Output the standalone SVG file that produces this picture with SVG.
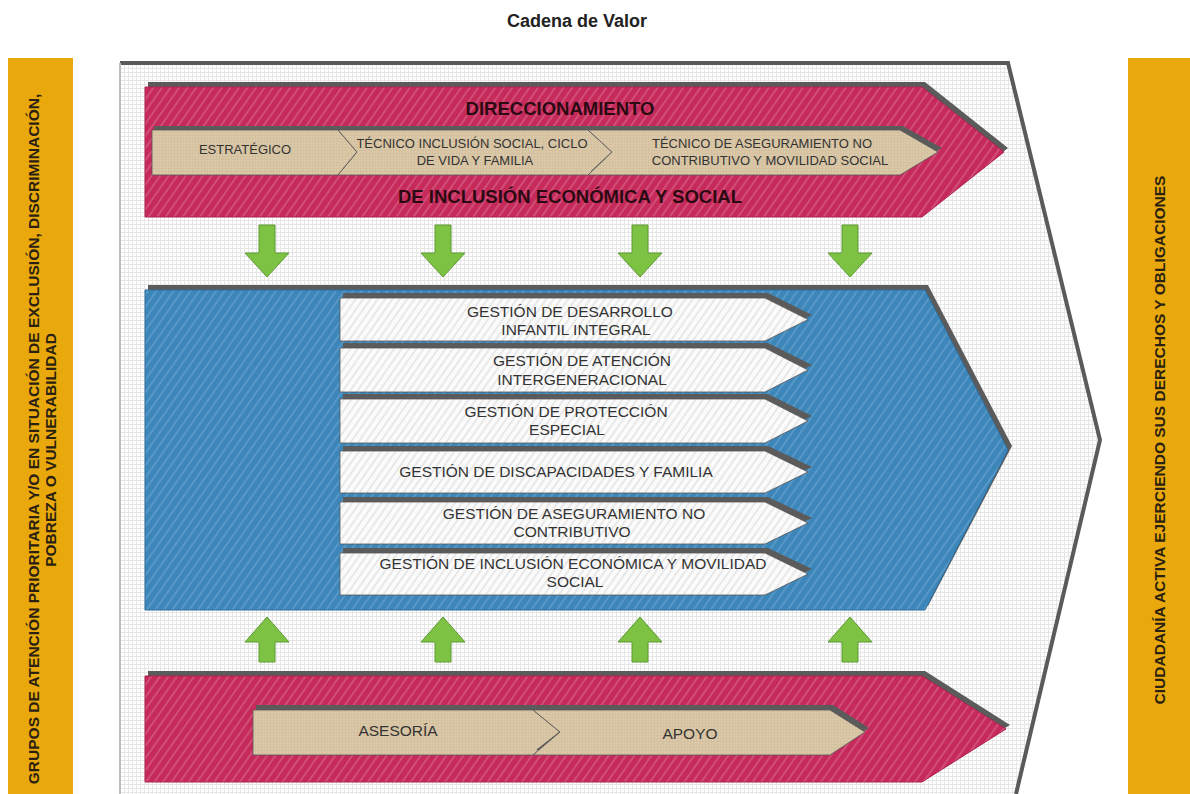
<svg xmlns="http://www.w3.org/2000/svg" width="1190" height="794" viewBox="0 0 1190 794">
<defs>
<pattern id="grid" width="4" height="4" patternUnits="userSpaceOnUse">
<rect width="4" height="4" fill="#ffffff"/>
<path d="M0,0.5 H4 M0.5,0 V4" stroke="#e6e6e6" stroke-width="1"/>
</pattern>
<pattern id="redp" width="7" height="7" patternUnits="userSpaceOnUse" patternTransform="rotate(35)">
<rect width="7" height="7" fill="#c62a5b"/>
<line x1="1" y1="0" x2="1" y2="7" stroke="#d9648a" stroke-width="1.2"/>
</pattern>
<pattern id="bluep" width="7" height="7" patternUnits="userSpaceOnUse" patternTransform="rotate(35)">
<rect width="7" height="7" fill="#3d86ba"/>
<line x1="1" y1="0" x2="1" y2="7" stroke="#66a2cf" stroke-width="1.2"/>
</pattern>
<pattern id="whitep" width="6" height="6" patternUnits="userSpaceOnUse" patternTransform="rotate(35)">
<rect width="6" height="6" fill="#fbfbfb"/>
<line x1="1" y1="0" x2="1" y2="6" stroke="#e2e2e2" stroke-width="1.5"/>
</pattern>
<pattern id="tanp" width="3" height="3" patternUnits="userSpaceOnUse">
<rect width="3" height="3" fill="#dbc8a8"/>
<path d="M0,0.5 H3 M0.5,0 V3" stroke="#d2bd9b" stroke-width="0.6"/>
</pattern>
</defs>
<style>
text{font-family:"Liberation Sans",Arial,sans-serif;}
.shadow{fill:#5b5b5b;}
.red{fill:url(#redp);stroke:#b0234f;stroke-width:1;}
.blue{fill:url(#bluep);stroke:#2f6f9e;stroke-width:1;}
.white{fill:url(#whitep);stroke:#555;stroke-width:0.8;}
.tan{fill:url(#tanp);stroke:#555;stroke-width:0.8;}
.bar{fill:#e9a90d;}
.arrow{fill:#7dc243;stroke:#5e9a33;stroke-width:1;}
.big{font-size:18.5px;font-weight:bold;fill:#2c0a12;text-anchor:middle;}
.sm{font-size:13px;fill:#333;text-anchor:middle;}
.gs{font-size:15.5px;fill:#333;text-anchor:middle;}
.side{font-size:15.5px;font-weight:bold;fill:#2a2110;text-anchor:middle;}
</style>

<text x="577" y="27" font-size="18" font-weight="bold" fill="#222" text-anchor="middle">Cadena de Valor</text>

<g id="grupos">
<rect class="bar" x="8" y="58" width="65" height="736"/>
<text class="side" transform="translate(39,439) rotate(-90)">GRUPOS DE ATENCIÓN PRIORITARIA Y/O EN SITUACIÓN DE EXCLUSIÓN, DISCRIMINACIÓN,</text>
<text class="side" transform="translate(56,450) rotate(-90)">POBREZA O VULNERABILIDAD</text>
</g>

<g id="ciudadania">
<rect class="bar" x="1128" y="58" width="62" height="736"/>
<text class="side" transform="translate(1165,440) rotate(-90)">CIUDADANÍA ACTIVA EJERCIENDO SUS DERECHOS Y OBLIGACIONES</text>
</g>

<g id="marco">
<polygon points="120,63 1008,63 1100,440 1016,794 120,794" fill="url(#grid)"/>
<polyline points="120,63 1008,63 1100,440 1016,794" fill="none" stroke="#5a5a5a" stroke-width="4"/>
<line x1="120" y1="63" x2="120" y2="794" stroke="#bdbdbd" stroke-width="2"/>
</g>

<g id="direccionamiento">
<path class="shadow" d="M148,82 L925,82 L1008,148 L925,212 L148,212 Z"/>
<path class="red" d="M145,87 L922,87 L1004,152 L922,217 L145,217 Z"/>
<text class="big" x="560" y="115">DIRECCIONAMIENTO</text>
<text class="big" x="570" y="203">DE INCLUSIÓN ECONÓMICA Y SOCIAL</text>
</g>

<g id="estrategico">
<path class="shadow" d="M154,126 L341,126 L361,148 L341,171 L154,171 Z"/>
<path class="tan" d="M152,130 L338,130 L357,152 L338,175 L152,175 Z"/>
<text class="sm" x="245" y="154">ESTRATÉGICO</text>
</g>
<g id="tecnico-inclusion">
<path class="shadow" d="M341,126 L591,126 L616,148 L591,171 L341,171 L360,148 Z"/>
<path class="tan" d="M338,130 L588,130 L612,152 L588,175 L338,175 L357,152 Z"/>
<text class="sm" x="472" y="148">TÉCNICO INCLUSIÓN SOCIAL, CICLO</text>
<text class="sm" x="475" y="165">DE VIDA Y FAMILIA</text>
</g>
<g id="tecnico-aseguramiento">
<path class="shadow" d="M591,126 L903,126 L942,148 L903,171 L591,171 L616,148 Z"/>
<path class="tan" d="M588,130 L900,130 L938,152 L900,175 L588,175 L612,152 Z"/>
<text class="sm" x="762" y="148">TÉCNICO DE ASEGURAMIENTO NO</text>
<text class="sm" x="770" y="165">CONTRIBUTIVO Y MOVILIDAD SOCIAL</text>
</g>

<g id="misional">
<path class="shadow" d="M148,285 L928,285 L1012,446 L928,606 L148,606 Z"/>
<path class="blue" d="M145,290 L925,290 L1008,450 L925,610 L145,610 Z"/>
</g>

<g id="g1">
<path class="shadow" d="M343,293 L768,293 L812,315 L768,336 L343,336 Z"/>
<path class="white" d="M340,298 L765,298 L808,319.5 L765,341 L340,341 Z"/>
<text class="gs" x="570" y="317">GESTIÓN DE DESARROLLO</text>
<text class="gs" x="576" y="335">INFANTIL INTEGRAL</text>
</g>
<g id="g2">
<path class="shadow" d="M343,343 L768,343 L812,365 L768,387 L343,387 Z"/>
<path class="white" d="M340,348 L765,348 L808,370 L765,392 L340,392 Z"/>
<text class="gs" x="582" y="366">GESTIÓN DE ATENCIÓN</text>
<text class="gs" x="582" y="385">INTERGENERACIONAL</text>
</g>
<g id="g3">
<path class="shadow" d="M343,394 L768,394 L812,416 L768,438 L343,438 Z"/>
<path class="white" d="M340,399 L765,399 L808,421 L765,443 L340,443 Z"/>
<text class="gs" x="566" y="417">GESTIÓN DE PROTECCIÓN</text>
<text class="gs" x="567" y="435">ESPECIAL</text>
</g>
<g id="g4">
<path class="shadow" d="M343,446 L768,446 L812,467 L768,488 L343,488 Z"/>
<path class="white" d="M340,451 L765,451 L808,472 L765,493 L340,493 Z"/>
<text class="gs" x="556" y="477">GESTIÓN DE DISCAPACIDADES Y FAMILIA</text>
</g>
<g id="g5">
<path class="shadow" d="M343,497 L768,497 L812,518 L768,539 L343,539 Z"/>
<path class="white" d="M340,502 L765,502 L808,523 L765,544 L340,544 Z"/>
<text class="gs" x="574" y="519">GESTIÓN DE ASEGURAMIENTO NO</text>
<text class="gs" x="572" y="537">CONTRIBUTIVO</text>
</g>
<g id="g6">
<path class="shadow" d="M343,548 L768,548 L812,569 L768,590 L343,590 Z"/>
<path class="white" d="M340,553 L765,553 L808,574 L765,595 L340,595 Z"/>
<text class="gs" x="573" y="569">GESTIÓN DE INCLUSIÓN ECONÓMICA Y MOVILIDAD</text>
<text class="gs" x="575" y="587">SOCIAL</text>
</g>

<g id="apoyo-franja">
<path class="shadow" d="M148,671 L925,671 L1010,725 L925,777 L148,777 Z"/>
<path class="red" d="M145,676 L922,676 L1006,729 L922,782 L145,782 Z"/>
</g>
<g id="asesoria">
<path class="shadow" d="M256,705 L536,705 L564,728 L536,750 L256,750 Z"/>
<path class="tan" d="M253,710 L533,710 L560,732 L533,755 L253,755 Z"/>
<text class="gs" x="398" y="736">ASESORÍA</text>
</g>
<g id="apoyo">
<path class="shadow" d="M536,705 L833,705 L869,728 L833,750 L536,750 L564,728 Z"/>
<path class="tan" d="M533,710 L830,710 L865,732 L830,755 L533,755 L560,732 Z"/>
<text class="gs" x="690" y="739">APOYO</text>
</g>

<g id="connectors">
<path class="arrow" d="M259,225 H275 V253 H289 L267,277 L245,253 H259 Z"/>
<path class="arrow" d="M435,225 H451 V253 H465 L443,277 L421,253 H435 Z"/>
<path class="arrow" d="M632,225 H648 V253 H662 L640,277 L618,253 H632 Z"/>
<path class="arrow" d="M842,225 H858 V253 H872 L850,277 L828,253 H842 Z"/>
<path class="arrow" d="M259,662 H275 V642 H289 L267,617 L245,642 H259 Z"/>
<path class="arrow" d="M435,662 H451 V642 H465 L443,617 L421,642 H435 Z"/>
<path class="arrow" d="M632,662 H648 V642 H662 L640,617 L618,642 H632 Z"/>
<path class="arrow" d="M842,662 H858 V642 H872 L850,617 L828,642 H842 Z"/>
</g>
</svg>
